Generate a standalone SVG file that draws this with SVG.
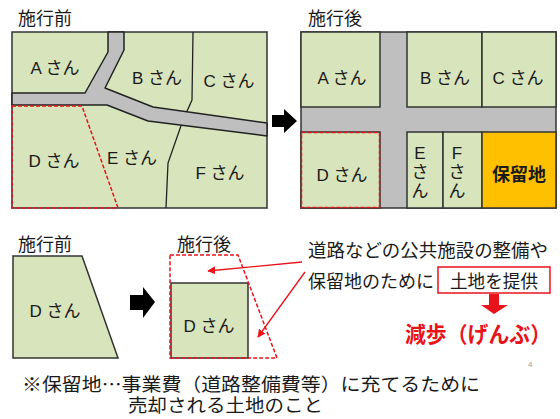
<svg xmlns="http://www.w3.org/2000/svg" width="560" height="419" viewBox="0 0 560 419">
<style>
.jp{font-family:"Noto Sans CJK JP","Liberation Sans",sans-serif;fill:#1a1a1a}
.lbl{font-family:"Liberation Sans","Noto Sans CJK JP",sans-serif;font-size:17px;fill:#1a1a1a;text-anchor:middle}
.land{fill:#D8E4BC;stroke:#333;stroke-width:1.5}
.road{fill:#BFBFBF;stroke:#222;stroke-width:1.5;stroke-linejoin:round}
.line{fill:none;stroke:#222;stroke-width:1.3}
.rdash{fill:none;stroke:#E8131B;stroke-width:1.5;stroke-dasharray:4 2}
.red{fill:none;stroke:#E8131B;stroke-width:1.3}
</style>
<defs>
<marker id="ah" viewBox="0 0 10 10" refX="9" refY="5" markerWidth="8" markerHeight="8" orient="auto" markerUnits="userSpaceOnUse"><path d="M0,0 L10,5 L0,10 z" fill="#E8131B"/></marker>
</defs>
<rect width="560" height="419" fill="#fff"/>

<!-- Titles -->
<text class="jp" x="18" y="25" font-size="18">施行前</text>
<text class="jp" x="308" y="25" font-size="18">施行後</text>
<text class="jp" x="18" y="251" font-size="18">施行前</text>
<text class="jp" x="177" y="251" font-size="18">施行後</text>

<!-- Left map (before) -->
<g id="map-before">
<rect class="land" x="12" y="32" width="255" height="176"/>
<polyline class="line" points="193,32 192,100 183,120 168,163 166,208"/>
<polygon class="road" points="108,32 108,52 85,93 12,93 12,105 107,105 148,121 267,136 267,123 153,107 105,88 124,50 124,32"/>
<polygon class="rdash" points="12,106 82,106 118,208 12,208"/>
<text class="lbl" x="55" y="74">A さん</text>
<text class="lbl" x="157" y="84">B さん</text>
<text class="lbl" x="229" y="87">C さん</text>
<text class="lbl" x="54" y="167">D さん</text>
<text class="lbl" x="132" y="164">E さん</text>
<text class="lbl" x="220" y="179">F さん</text>
</g>

<!-- Arrow between maps -->
<g id="arrow-top">
<polygon points="272,115 284,115 284,109 297,121 284,133 284,127 272,127" fill="#000"/>
</g>

<!-- Right map (after) -->
<g id="map-after">
<rect x="301" y="32" width="255" height="176" fill="#BFBFBF" stroke="#333" stroke-width="1.5"/>
<rect class="land" x="301" y="32" width="79" height="75"/>
<rect class="land" x="407" y="32" width="75" height="75"/>
<rect class="land" x="482" y="32" width="74" height="75"/>
<rect class="land" x="301" y="132" width="79" height="76"/>
<rect class="rdash" x="301.5" y="132.5" width="78" height="75"/>
<rect class="land" x="407" y="132" width="36" height="76"/>
<rect class="land" x="443" y="132" width="39" height="76"/>
<rect x="482" y="132" width="74" height="76" fill="#FFC000" stroke="#333" stroke-width="1.5"/>
<text class="lbl" x="342" y="84">A さん</text>
<text class="lbl" x="445" y="84">B さん</text>
<text class="lbl" x="518" y="84">C さん</text>
<text class="lbl" x="342" y="181">D さん</text>
<text class="lbl" x="420"><tspan x="420" y="159">E</tspan><tspan x="420" y="178">さ</tspan><tspan x="420" y="197">ん</tspan></text>
<text class="lbl" x="457"><tspan x="457" y="159">F</tspan><tspan x="457" y="178">さ</tspan><tspan x="457" y="197">ん</tspan></text>
<text class="jp" x="519" y="181" font-size="18" font-weight="bold" text-anchor="middle">保留地</text>
</g>

<!-- Bottom before -->
<g id="d-before">
<polygon class="land" points="13,256 82,256 118,358 13,358"/>
<text class="lbl" x="55" y="317">D さん</text>
</g>

<g id="arrow-bottom">
<polygon points="130,295 143,295 143,287 155,302 143,318 143,310 130,310" fill="#000"/>
</g>

<!-- Bottom after -->
<g id="d-after">
<rect class="land" x="171" y="283" width="77" height="75"/>
<polygon class="rdash" points="170,255 238,255 277,358 170,358"/>
<text class="lbl" x="209" y="332">D さん</text>
</g>

<!-- Connectors -->
<g id="connectors">
<line class="red" x1="302" y1="262" x2="208" y2="271" marker-end="url(#ah)"/>
<line class="red" x1="305" y1="272" x2="258" y2="337" marker-end="url(#ah)"/>
<polygon points="489,294 499,294 499,305 508,305 494,314 481,305 489,305" fill="#E8131B"/>
</g>

<!-- Explanation texts -->
<g id="explain">
<text class="jp" x="308" y="257" font-size="18" textLength="240" lengthAdjust="spacingAndGlyphs">道路などの公共施設の整備や</text>
<text class="jp" x="308" y="288" font-size="18">保留地のために</text>
<rect x="438" y="267" width="112" height="26" fill="none" stroke="#E8131B" stroke-width="1.5"/>
<text class="jp" x="450" y="288" font-size="18" textLength="88" lengthAdjust="spacingAndGlyphs">土地を提供</text>
<text class="jp" x="405" y="342" font-size="22" font-weight="bold" fill="#E8131B" style="fill:#E8131B" textLength="146" lengthAdjust="spacingAndGlyphs">減歩（げんぶ）</text>
</g>

<text x="528" y="367" font-family="Liberation Sans,sans-serif" font-size="8" fill="#999">4</text>

<g id="note">
<text class="jp" font-size="18.5"><tspan x="22" y="391" textLength="458" lengthAdjust="spacingAndGlyphs">※保留地…事業費（道路整備費等）に充てるために</tspan><tspan x="128" y="412" textLength="195" lengthAdjust="spacingAndGlyphs">売却される土地のこと</tspan></text>
</g>
</svg>
